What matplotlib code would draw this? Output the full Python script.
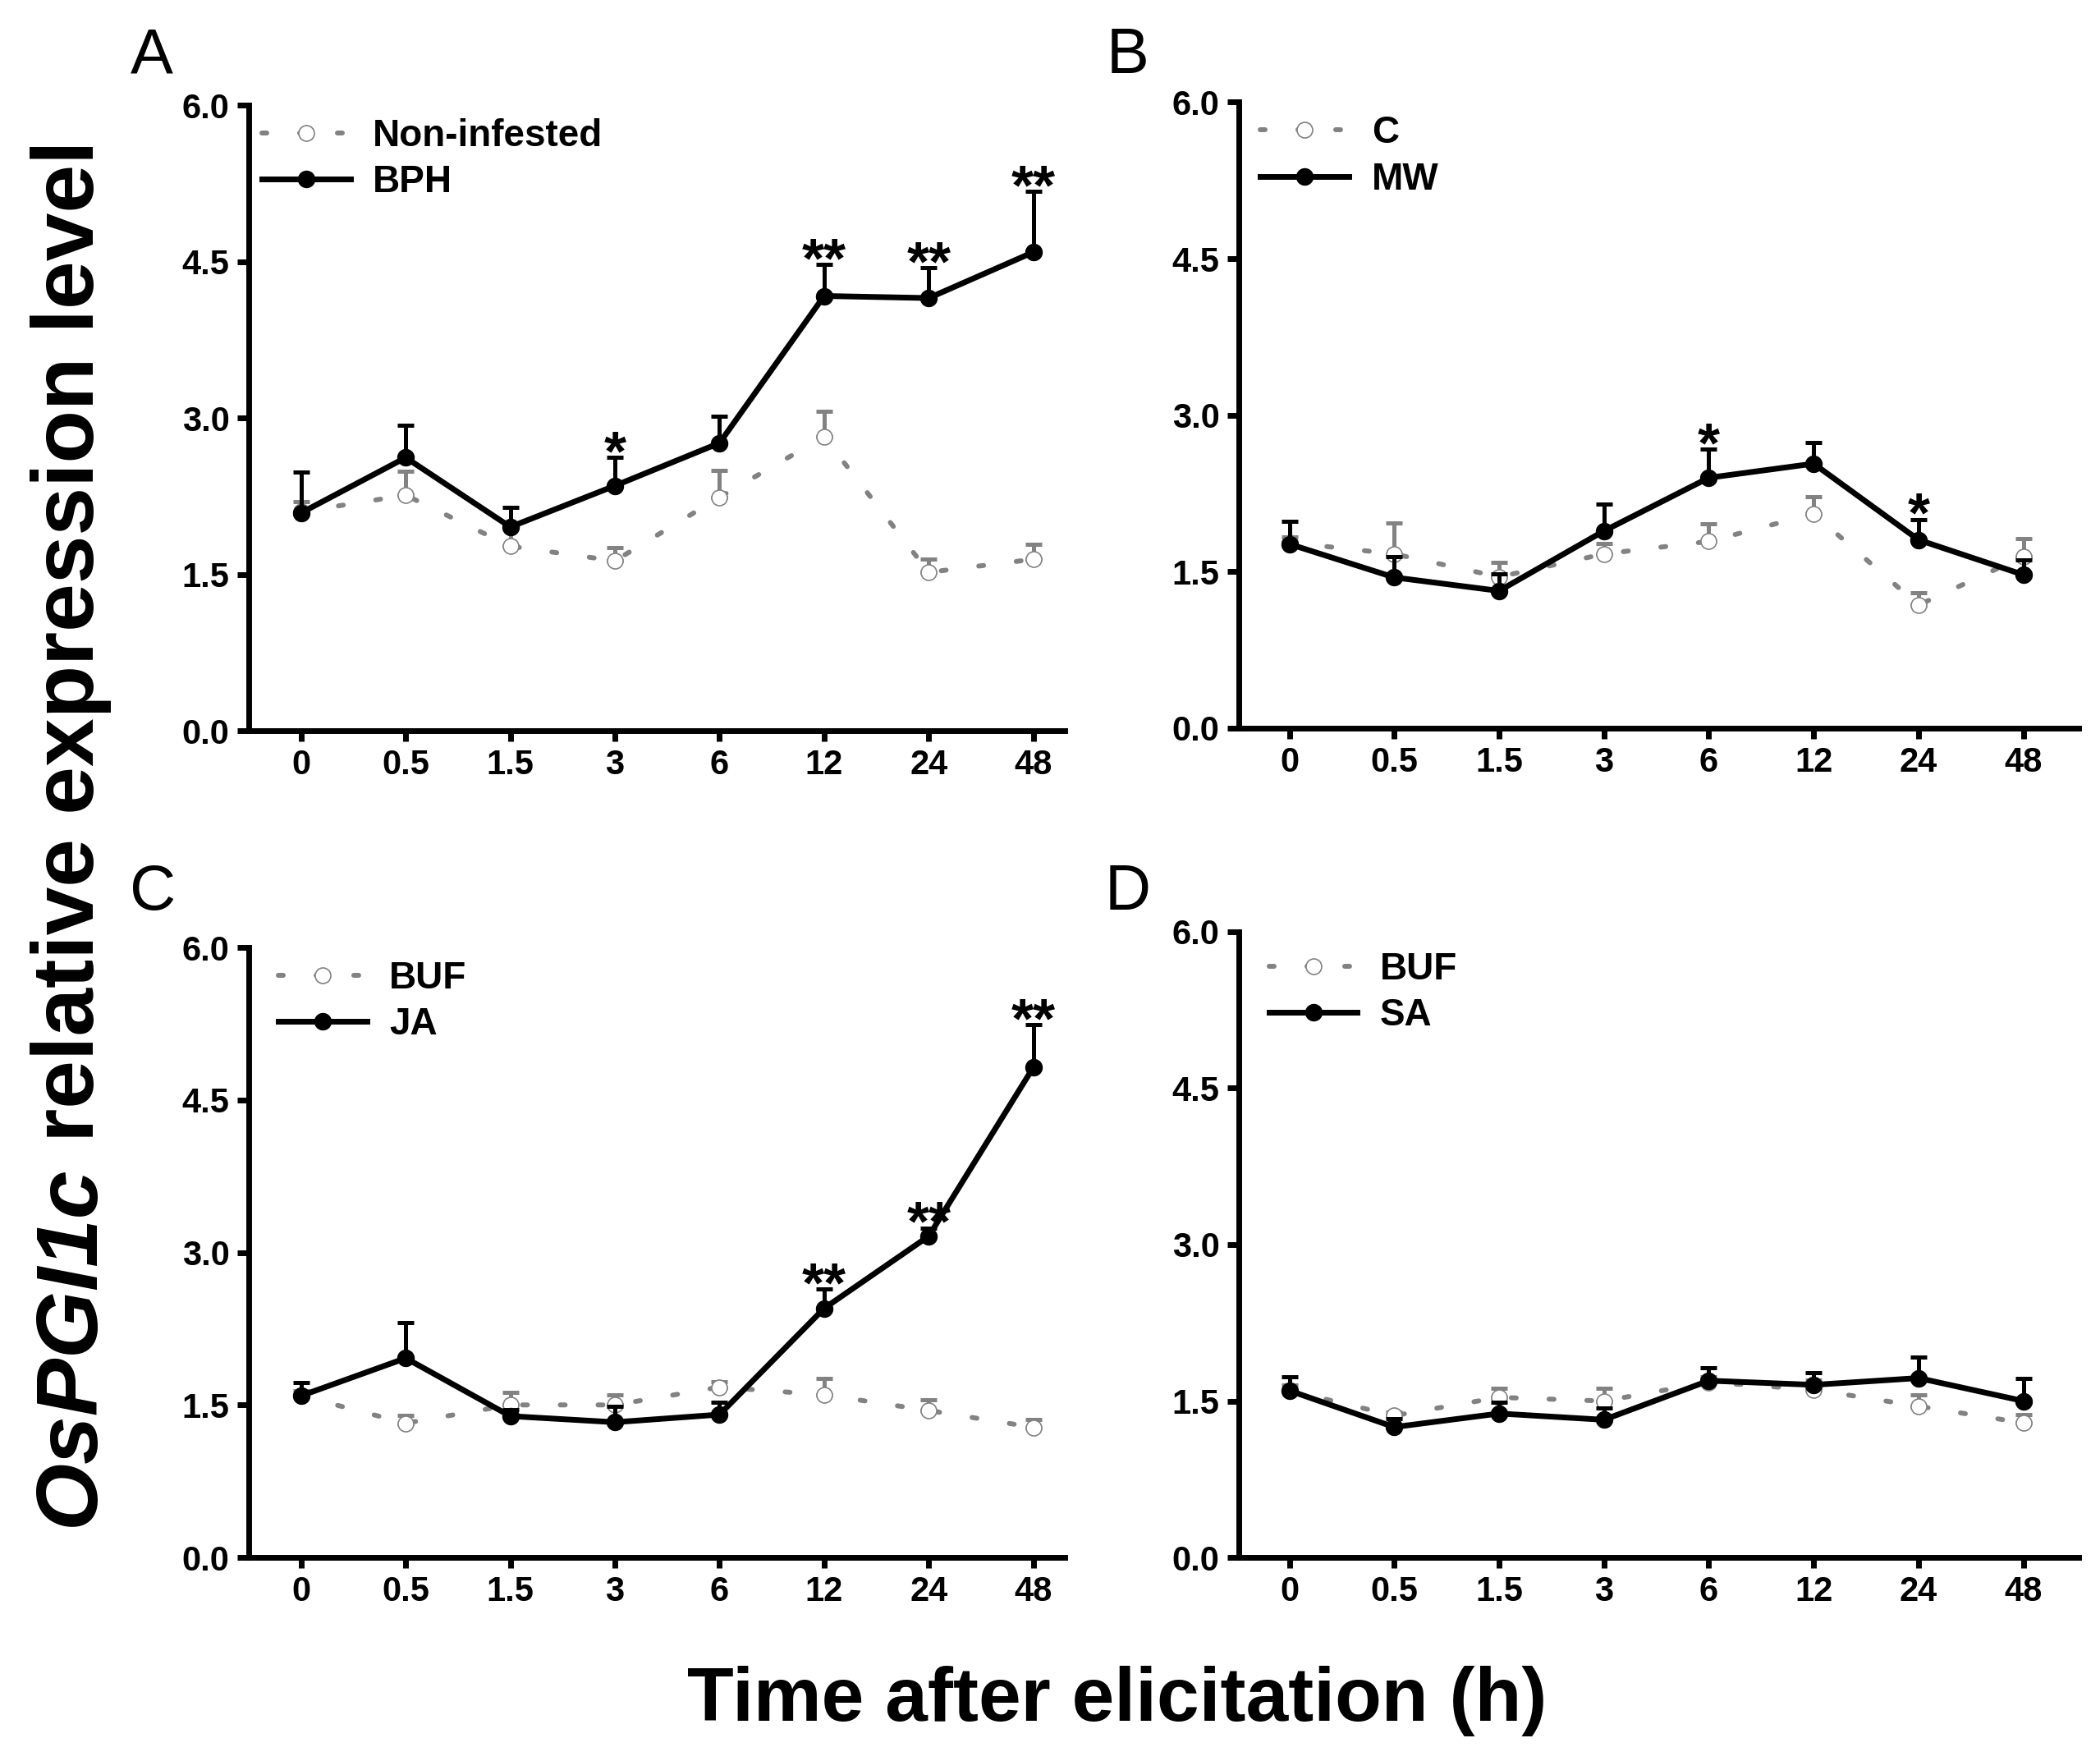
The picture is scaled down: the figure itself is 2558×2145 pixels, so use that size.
import numpy as np
import matplotlib.pyplot as plt

plt.rcParams['font.family'] = ['Liberation Sans', 'DejaVu Sans']

times = ['0', '0.5', '1.5', '3', '6', '12', '24', '48']

# A: Non-infested vs BPH
a_ctrl = [2.10, 2.26, 1.77, 1.63, 2.24, 2.82, 1.52, 1.645]
a_ctrl_err = [0.10, 0.23, 0.21, 0.13, 0.26, 0.24, 0.125, 0.145]
a_trt = [2.09, 2.62, 1.955, 2.35, 2.76, 4.17, 4.15, 4.59]
a_trt_err = [0.39, 0.31, 0.185, 0.27, 0.26, 0.30, 0.29, 0.58]
a_sig = ['', '', '', '*', '', '**', '**', '**']

# B: C vs MW
b_ctrl = [1.78, 1.67, 1.45, 1.67, 1.79, 2.055, 1.18, 1.645]
b_ctrl_err = [0.05, 0.30, 0.14, 0.10, 0.165, 0.165, 0.12, 0.175]
b_trt = [1.765, 1.445, 1.316, 1.89, 2.40, 2.535, 1.805, 1.47]
b_trt_err = [0.215, 0.20, 0.16, 0.26, 0.275, 0.205, 0.195, 0.14]
b_sig = ['', '', '', '', '*', '', '*', '']

# C: BUF vs JA
c_ctrl = [1.59, 1.32, 1.50, 1.50, 1.675, 1.60, 1.445, 1.28]
c_ctrl_err = [0.05, 0.08, 0.12, 0.10, 0.055, 0.16, 0.105, 0.08]
c_trt = [1.59, 1.96, 1.39, 1.33, 1.405, 2.45, 3.16, 4.82]
c_trt_err = [0.13, 0.35, 0.06, 0.16, 0.125, 0.19, 0.08, 0.42]
c_sig = ['', '', '', '', '', '**', '**', '**']

# D: BUF vs SA
d_ctrl = [1.60, 1.36, 1.535, 1.50, 1.68, 1.61, 1.45, 1.29]
d_ctrl_err = [0.05, 0.03, 0.085, 0.12, 0.05, 0.09, 0.11, 0.08]
d_trt = [1.60, 1.25, 1.38, 1.32, 1.695, 1.655, 1.72, 1.50]
d_trt_err = [0.13, 0.08, 0.11, 0.11, 0.125, 0.115, 0.20, 0.22]
d_sig = ['', '', '', '', '', '', '', '']

panels = [
    ('A', 'Non-infested', 'BPH', a_ctrl, a_ctrl_err, a_trt, a_trt_err, a_sig),
    ('B', 'C', 'MW', b_ctrl, b_ctrl_err, b_trt, b_trt_err, b_sig),
    ('C', 'BUF', 'JA', c_ctrl, c_ctrl_err, c_trt, c_trt_err, c_sig),
    ('D', 'BUF', 'SA', d_ctrl, d_ctrl_err, d_trt, d_trt_err, d_sig),
]

# axes boxes in figure fractions, x limits, letter positions
boxes = [
    [0.1185, 0.585, 0.3885, 0.3553],
    [0.590, 0.5865, 0.400, 0.3555],
    [0.1185, 0.1156, 0.3885, 0.3464],
    [0.590, 0.1156, 0.400, 0.3553],
]
xlims = [(-0.50, 7.30), (-0.48, 7.53), (-0.50, 7.30), (-0.48, 7.53)]
letter_xy = [(0.0723, 0.968), (0.537, 0.968), (0.0727, 0.493), (0.537, 0.493)]
leg_anchor = [(0.0, 1.0), (0.01, 1.0), (0.02, 1.0), (0.02, 0.99)]

GRAY = '#828282'

fig = plt.figure(figsize=(25.58, 21.45), dpi=100)

for k, (letter, lab_c, lab_t, yc, ec, yt, et, sig) in enumerate(panels):
    ax = fig.add_axes(boxes[k])
    x = np.arange(len(times))

    ax.errorbar(x, yc, yerr=[np.zeros(len(ec)), ec], fmt='none', ecolor=GRAY,
                elinewidth=3.6, capsize=7.5, capthick=3.6, zorder=2)
    ax.plot(x, yc, color=GRAY, lw=4.3, linestyle=(0, (1.0, 6.7)),
            dash_capstyle='round', marker='o', markersize=13.7,
            markerfacecolor='white', markeredgecolor=GRAY, markeredgewidth=1.2,
            label=lab_c, zorder=3)

    ax.errorbar(x, yt, yerr=[np.zeros(len(et)), et], fmt='none', ecolor='black',
                elinewidth=3.6, capsize=7.5, capthick=3.6, zorder=4)
    ax.plot(x, yt, color='black', lw=5, marker='o', markersize=14.4,
            markerfacecolor='black', markeredgecolor='black', label=lab_t, zorder=5)

    for i, s in enumerate(sig):
        if s:
            ax.annotate(s, (x[i], yt[i] + et[i]), xytext=(0, -15),
                        textcoords='offset pixels', ha='center', va='baseline',
                        fontsize=50, fontweight='bold')

    ax.set_xlim(*xlims[k])
    ax.set_ylim(0, 6.0)
    ax.set_yticks([0, 1.5, 3.0, 4.5, 6.0])
    ax.set_yticklabels(['0.0', '1.5', '3.0', '4.5', '6.0'])
    ax.set_xticks(x)
    ax.set_xticklabels(times)
    for sp in ['top', 'right']:
        ax.spines[sp].set_visible(False)
    for sp in ['left', 'bottom']:
        ax.spines[sp].set_linewidth(5)
    ax.tick_params(axis='both', direction='out', width=5, labelsize=30)
    ax.tick_params(axis='y', length=10, pad=7)
    ax.tick_params(axis='x', length=9, pad=7)
    for t in ax.get_xticklabels() + ax.get_yticklabels():
        t.set_fontweight('bold')

    leg = ax.legend(loc='upper left', bbox_to_anchor=leg_anchor[k], frameon=False,
                    fontsize=33, handlelength=2.35, handletextpad=0.6,
                    labelspacing=0.27, borderpad=0.2, borderaxespad=0.15)
    for t in leg.get_texts():
        t.set_fontweight('bold')

    fig.text(letter_xy[k][0], letter_xy[k][1], letter, fontsize=56,
             ha='center', va='center')

# y label: italic gene name + bold rest, stacked along the rotated baseline
fig.canvas.draw()
renderer = fig.canvas.get_renderer()
yl_x = 0.0446
p1 = fig.text(yl_x, 0, 'OsPGI1c', fontsize=76, fontweight='bold', style='italic',
              rotation=90, rotation_mode='anchor', ha='left', va='baseline')
p2 = fig.text(yl_x, 0, ' relative expression level', fontsize=76, fontweight='bold',
              rotation=90, rotation_mode='anchor', ha='left', va='baseline')
h1 = p1.get_window_extent(renderer).height / fig.bbox.height
h2 = p2.get_window_extent(renderer).height / fig.bbox.height
y0 = 0.527 - (h1 + h2) / 2
p1.set_y(y0)
p2.set_y(y0 + h1)

fig.text(0.532, 0.0228, 'Time after elicitation (h)', fontsize=67,
         fontweight='bold', ha='center', va='baseline')

fig.savefig('out.png', dpi=100)
